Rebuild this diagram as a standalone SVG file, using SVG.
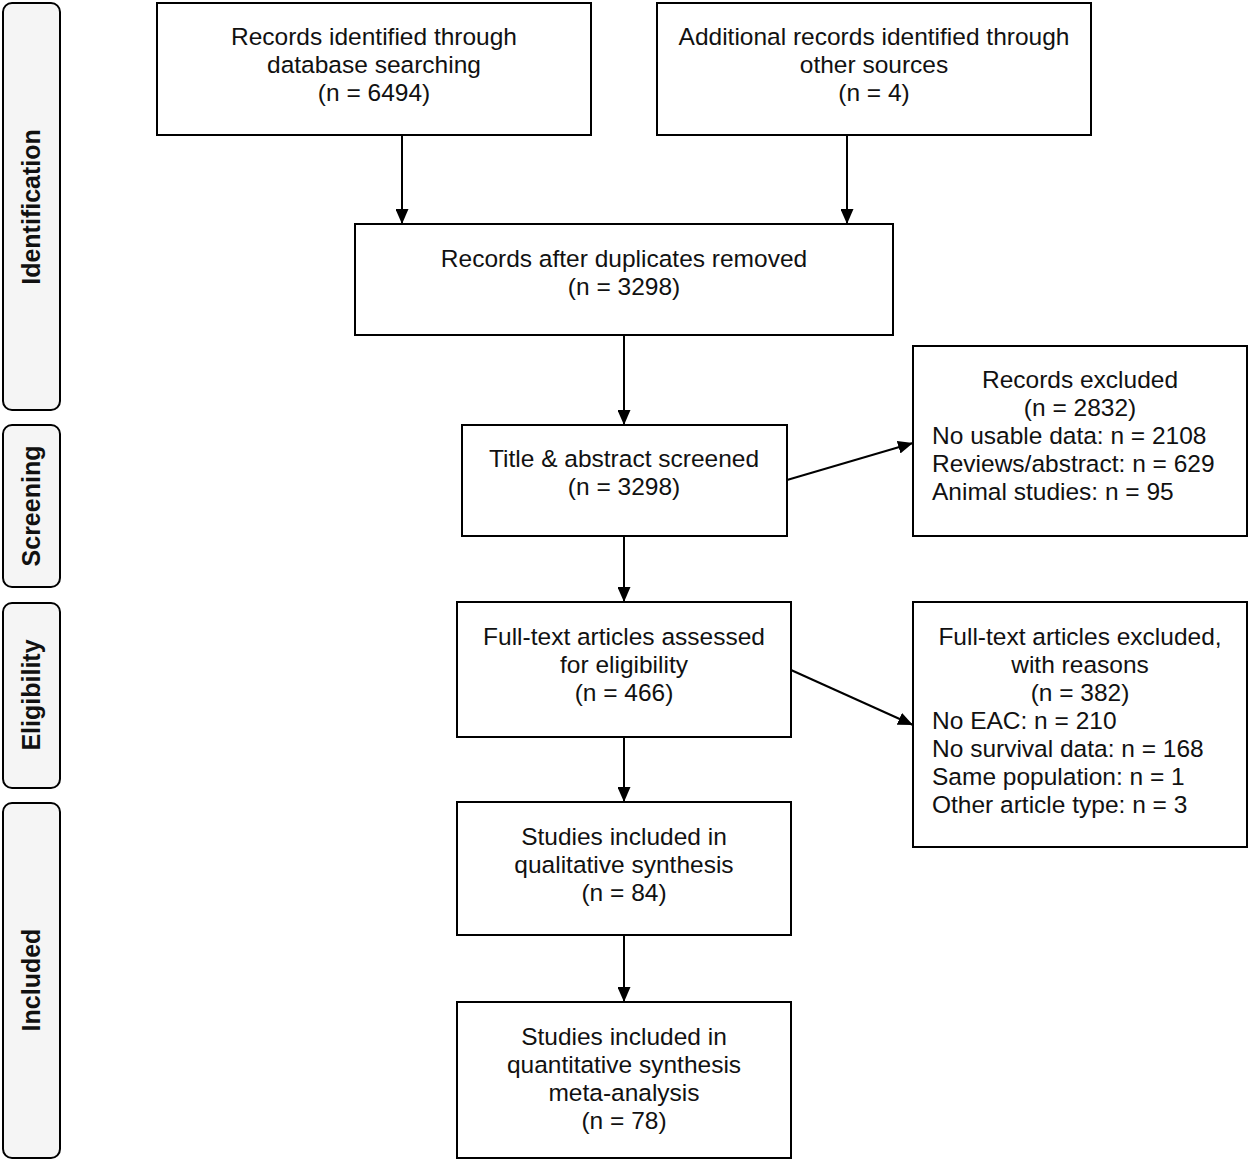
<svg xmlns="http://www.w3.org/2000/svg" width="1250" height="1162" viewBox="0 0 1250 1162">
<style>
.box{fill:#fff;stroke:#000;stroke-width:2}
.phase{fill:#f5f5f5;stroke:#000;stroke-width:2}
.t{font-family:"Liberation Sans",Arial,sans-serif;font-size:24.5px;fill:#111;text-anchor:middle}
.l{text-anchor:start}
.p{font-family:"Liberation Sans",Arial,sans-serif;font-size:25px;font-weight:bold;fill:#111;text-anchor:middle}
.c{stroke:#000;stroke-width:2;fill:none;marker-end:url(#ah)}
</style>
<defs>
<marker id="ah" viewBox="0 0 15 13" refX="15" refY="6.5" markerWidth="15" markerHeight="13" markerUnits="userSpaceOnUse" orient="auto">
<path d="M0,0 L15,6.5 L0,13 Z" fill="#000"/>
</marker>
</defs>
<g id="phase-identification"><rect class="phase" x="3" y="3" width="57" height="407" rx="9"/><text class="p" transform="translate(40,207) rotate(-90)">Identification</text></g>
<g id="phase-screening"><rect class="phase" x="3" y="425" width="57" height="162" rx="9"/><text class="p" transform="translate(40,506) rotate(-90)">Screening</text></g>
<g id="phase-eligibility"><rect class="phase" x="3" y="603" width="57" height="185" rx="9"/><text class="p" transform="translate(40,695) rotate(-90)">Eligibility</text></g>
<g id="phase-included"><rect class="phase" x="3" y="803" width="57" height="355" rx="9"/><text class="p" transform="translate(40,980) rotate(-90)">Included</text></g>

<g id="connectors">
<line class="c" x1="402" y1="135" x2="402" y2="224"/>
<line class="c" x1="847" y1="135" x2="847" y2="224"/>
<line class="c" x1="624" y1="335" x2="624" y2="425"/>
<line class="c" x1="624" y1="536" x2="624" y2="602"/>
<line class="c" x1="624" y1="737" x2="624" y2="802"/>
<line class="c" x1="624" y1="935" x2="624" y2="1002"/>
<line class="c" x1="787" y1="480" x2="913" y2="443"/>
<line class="c" x1="791" y1="670" x2="913" y2="725"/>
</g>

<g id="n1"><rect class="box" x="157" y="3" width="434" height="132"/>
<text class="t" x="374" y="45">Records identified through</text>
<text class="t" x="374" y="73">database searching</text>
<text class="t" x="374" y="101">(n = 6494)</text></g>
<g id="n2"><rect class="box" x="657" y="3" width="434" height="132"/>
<text class="t" x="874" y="45">Additional records identified through</text>
<text class="t" x="874" y="73">other sources</text>
<text class="t" x="874" y="101">(n = 4)</text></g>
<g id="n3"><rect class="box" x="355" y="224" width="538" height="111"/>
<text class="t" x="624" y="267">Records after duplicates removed</text>
<text class="t" x="624" y="295">(n = 3298)</text></g>
<g id="n4"><rect class="box" x="462" y="425" width="325" height="111"/>
<text class="t" x="624" y="467">Title &amp; abstract screened</text>
<text class="t" x="624" y="495">(n = 3298)</text></g>
<g id="n5"><rect class="box" x="913" y="346" width="334" height="190"/>
<text class="t" x="1080" y="388">Records excluded</text>
<text class="t" x="1080" y="416">(n = 2832)</text>
<text class="t l" x="932" y="444">No usable data: n = 2108</text>
<text class="t l" x="932" y="472">Reviews/abstract: n = 629</text>
<text class="t l" x="932" y="500">Animal studies: n = 95</text></g>
<g id="n6"><rect class="box" x="457" y="602" width="334" height="135"/>
<text class="t" x="624" y="645">Full-text articles assessed</text>
<text class="t" x="624" y="673">for eligibility</text>
<text class="t" x="624" y="701">(n = 466)</text></g>
<g id="n7"><rect class="box" x="913" y="602" width="334" height="245"/>
<text class="t" x="1080" y="645">Full-text articles excluded,</text>
<text class="t" x="1080" y="673">with reasons</text>
<text class="t" x="1080" y="701">(n = 382)</text>
<text class="t l" x="932" y="729">No EAC: n = 210</text>
<text class="t l" x="932" y="757">No survival data: n = 168</text>
<text class="t l" x="932" y="785">Same population: n = 1</text>
<text class="t l" x="932" y="813">Other article type: n = 3</text></g>
<g id="n8"><rect class="box" x="457" y="802" width="334" height="133"/>
<text class="t" x="624" y="845">Studies included in</text>
<text class="t" x="624" y="873">qualitative synthesis</text>
<text class="t" x="624" y="901">(n = 84)</text></g>
<g id="n9"><rect class="box" x="457" y="1002" width="334" height="156"/>
<text class="t" x="624" y="1045">Studies included in</text>
<text class="t" x="624" y="1073">quantitative synthesis</text>
<text class="t" x="624" y="1101">meta-analysis</text>
<text class="t" x="624" y="1129">(n = 78)</text></g>
</svg>
